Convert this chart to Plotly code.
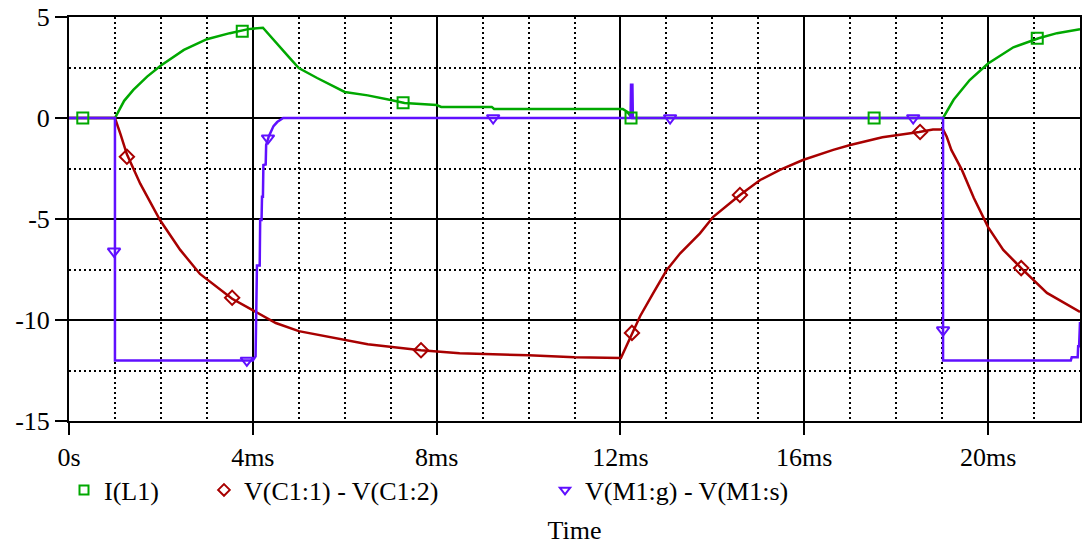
import plotly.graph_objects as go

# ---------------- data ----------------
# I(L1)
t_il1 = [0, 1.0, 1.2, 1.4, 1.7, 2.0, 2.5, 3.0, 3.5, 3.9, 4.22, 4.53, 4.81, 5.0, 5.4, 6.0,
         6.5, 7.0, 7.3, 8.0, 8.1, 9.2, 9.25, 12.05, 12.15, 12.25, 19.02, 19.25, 19.6, 20.0,
         20.55, 21.1, 21.5, 22.0]
i_l1 = [0, 0, 0.85, 1.39, 2.05, 2.6, 3.37, 3.9, 4.2, 4.4, 4.47, 3.7, 2.95, 2.47, 1.98, 1.29,
        1.12, 0.89, 0.74, 0.64, 0.55, 0.55, 0.45, 0.45, 0.3, 0.0, 0.0, 0.9, 1.88, 2.7,
        3.5, 3.95, 4.2, 4.4]
mk_t_il1 = [0.3, 3.77, 7.27, 12.23, 17.52, 21.07]
mk_il1 = [0, 4.3, 0.75, 0, 0, 3.95]

# V(C1:1) - V(C1:2)
t_vc1 = [0, 1.0, 1.12, 1.26, 1.55, 1.98, 2.42, 2.85, 3.55, 4.09, 4.5, 5.0, 5.68, 6.5, 7.66,
         8.5, 10.0, 11.0, 12.01, 12.25, 12.43, 12.71, 13.0, 13.3, 13.73, 14.02, 14.6, 15.04,
         15.47, 15.97, 16.63, 17.0, 17.7, 18.5, 18.8, 19.02, 19.1, 19.2, 19.43, 19.69,
         20.0, 20.33, 20.72, 21.28, 22.0]
v_c1 = [0, 0, -0.8, -1.8, -3.25, -5.05, -6.53, -7.72, -8.95, -9.65, -10.15, -10.55, -10.85,
        -11.2, -11.5, -11.65, -11.75, -11.85, -11.88, -10.64, -9.8, -8.68, -7.55, -6.7,
        -5.71, -4.89, -3.81, -3.07, -2.57, -2.08, -1.58, -1.34, -0.95, -0.69, -0.57, -0.57,
        -0.93, -1.58, -2.57, -3.96, -5.4, -6.53, -7.43, -8.66, -9.6]
mk_t_vc1 = [1.26, 3.55, 7.66, 12.25, 14.6, 18.52, 20.72]
mk_vc1 = [-1.92, -8.9, -11.5, -10.64, -3.81, -0.69, -7.43]

# V(M1:g) - V(M1:s)
t_vm1 = [0, 1.0, 1.0, 4.0, 4.06, 4.07, 4.08, 4.09, 4.15, 4.16, 4.19, 4.2, 4.22, 4.23, 4.28,
         4.29, 4.35, 4.45, 4.53, 4.66, 12.22, 12.23, 12.26, 12.27, 19.02, 19.02, 21.8,
         21.82, 21.95, 21.96, 21.98, 21.99, 22.0]
v_m1 = [0, 0, -12.0, -12.0, -11.8, -10.0, -10.0, -7.3, -7.3, -5.05, -5.05, -3.9, -3.9, -2.33,
        -2.3, -1.34, -0.9, -0.4, -0.2, 0, 0, 1.65, 1.65, 0, 0, -12.0, -12.0,
        -11.85, -11.85, -11.3, -11.3, -10.1, -10.1]
mk_t_vm1 = [0.98, 3.87, 4.33, 9.23, 13.08, 18.37, 19.02]
mk_vm1 = [-6.6, -12.0, -1.0, 0, 0, 0, -10.5]

names = ["I(L1)", "V(C1:1) - V(C1:2)", "V(M1:g) - V(M1:s)"]
x_tickvals = [0, 4, 8, 12, 16, 20]
x_ticktext = ["0s", "4ms", "8ms", "12ms", "16ms", "20ms"]
y_tickvals = [5, 0, -5, -10, -15]
y_ticktext = ["5", "0", "-5", "-10", "-15"]

# ---------------- style ----------------
GREEN = "#00a800"
RED = "#a80000"
BLUE = "#6010ff"
FONT = "Liberation Serif, Times New Roman, serif"

series = [
    (t_il1, i_l1, mk_t_il1, mk_il1, GREEN, "square-open", "legend"),
    (t_vc1, v_c1, mk_t_vc1, mk_vc1, RED, "diamond-open", "legend2"),
    (t_vm1, v_m1, mk_t_vm1, mk_vm1, BLUE, "triangle-down-open", "legend3"),
]

fig = go.Figure()
for (t, v, mt, mv, col, sym, lg), nm in zip(series, names):
    fig.add_trace(go.Scatter(x=t, y=v, mode="lines", line=dict(color=col, width=2.5),
                             showlegend=False, hoverinfo="skip"))
for (t, v, mt, mv, col, sym, lg), nm in zip(series, names):
    fig.add_trace(go.Scatter(x=mt, y=mv, mode="markers", showlegend=False, hoverinfo="skip",
                             marker=dict(symbol=sym, size=11, color=col, line=dict(width=2, color=col))))
for (t, v, mt, mv, col, sym, lg), nm in zip(series, names):
    fig.add_trace(go.Scatter(x=[None], y=[None], mode="markers", name=nm, legend=lg,
                             marker=dict(symbol=sym, size=9, color=col, line=dict(width=2, color=col))))

L, R, T, B = 69, 2, 17, 124
W, H = 1082, 545
pw, ph = W - L - R, H - T - B

def lx(px):
    return (px - L) / pw

def ly(py):
    return (H - B - py) / ph

legend_common = dict(orientation="h", xanchor="left", yanchor="middle",
                     font=dict(family=FONT, size=26, color="black"),
                     bgcolor="rgba(0,0,0,0)", borderwidth=0)

fig.update_layout(
    width=W, height=H,
    margin=dict(l=L, r=R, t=T, b=B, autoexpand=False),
    paper_bgcolor="white", plot_bgcolor="white",
    font=dict(family=FONT, size=26, color="black"),
    hovermode=False,
    legend=dict(x=lx(64), y=ly(490), **legend_common),
    legend2=dict(x=lx(204), y=ly(490), **legend_common),
    legend3=dict(x=lx(545), y=ly(490), **legend_common),
    xaxis=dict(
        range=[0, 22], tickmode="array", tickvals=x_tickvals, ticktext=x_ticktext,
        showgrid=True, gridcolor="black", gridwidth=2,
        showline=True, linecolor="black", linewidth=2, mirror=True,
        ticks="outside", ticklen=12, tickwidth=2, tickcolor="black",
        zeroline=False,
        minor=dict(tickmode="linear", tick0=0, dtick=1, showgrid=True, gridcolor="black",
                   gridwidth=2, griddash="2px,3px", ticks=""),
        tickfont=dict(family=FONT, size=26, color="black"),
        title=dict(text="Time", font=dict(family=FONT, size=26, color="black"), standoff=52),
        automargin=False,
    ),
    yaxis=dict(
        range=[-15, 5], tickmode="array", tickvals=y_tickvals, ticktext=y_ticktext,
        showgrid=True, gridcolor="black", gridwidth=2,
        showline=True, linecolor="black", linewidth=2, mirror=True,
        ticks="outside", ticklen=12, tickwidth=2, tickcolor="black",
        zeroline=False,
        minor=dict(tickmode="linear", tick0=0, dtick=2.5, showgrid=True, gridcolor="black",
                   gridwidth=2, griddash="2px,3px", ticks=""),
        tickfont=dict(family=FONT, size=26, color="black"),
        automargin=False,
    ),
)

fig.write_html("out.html")
